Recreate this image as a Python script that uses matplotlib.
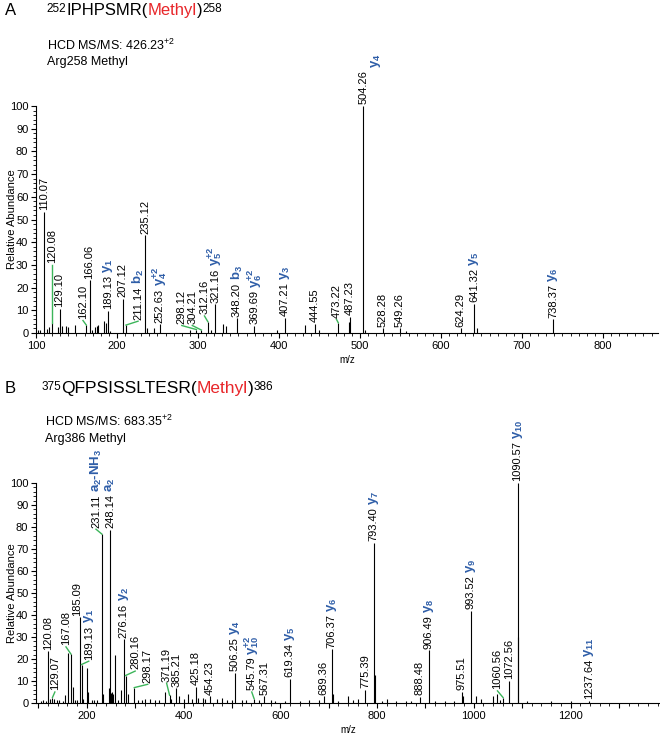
import matplotlib
matplotlib.use('Agg')
import matplotlib.pyplot as plt
from matplotlib.ticker import MultipleLocator, FuncFormatter

plt.rcParams['font.family'] = ['Liberation Sans', 'DejaVu Sans']
plt.rcParams['mathtext.fontset'] = 'custom'
plt.rcParams['mathtext.rm'] = 'Liberation Sans'
plt.rcParams['mathtext.it'] = 'Liberation Sans:italic'
plt.rcParams['mathtext.bf'] = 'Liberation Sans:bold'

BLUE = '#2f5ea8'
GREEN = '#3cb55a'
RED = '#e8262a'

# ---- panel A : 252IPHPSMR(Methyl)258 ----
a_mz = [103, 105, 110.07, 113, 116.5, 120.08, 127.5, 129.10, 132, 136.6, 139, 148,
        162.10, 166.06, 169, 173, 175, 177, 184, 186, 189.13, 191.5, 207.12, 211.14,
        235.12, 237.5, 245.7, 252.63, 290, 298.12, 304.21, 312.16, 316, 321.16, 331,
        334, 348.20, 369.69, 398, 407.21, 432, 444.55, 449, 473.22, 486, 487.23,
        504.26, 506, 528.28, 549.26, 557, 624.29, 641.32, 644.5, 738.37]
a_int = [1.5, 1.5, 53.5, 1.8, 2.5, 4.4, 2.5, 10.6, 3, 3, 2.5, 3.7,
         3.5, 23.2, 1.5, 2.5, 3, 3.5, 5.4, 4.5, 9.8, 1, 15, 3.5,
         43, 2, 2, 3.8, 1.5, 1.5, 1.3, 5, 1.5, 12.7, 4,
         3, 6.5, 3.2, 1.5, 6.6, 3.7, 4, 1.5, 4.5, 5, 7,
         100, 1.5, 2, 2, 1, 2, 12.8, 2, 6]
a_labels = ['110.07', '120.08', '129.10', '162.10', '166.06', '189.13', '207.12',
            '211.14', '235.12', '252.63', '298.12', '304.21', '312.16', '321.16',
            '348.20', '369.69', '407.21', '444.55', '473.22', '487.23', '504.26',
            '528.28', '549.26', '624.29', '641.32', '738.37']
a_ions = {'189.13': r'$\mathbf{y_1}$', '211.14': r'$\mathbf{b_2}$',
          '252.63': r'$\mathbf{y_4^{+2}}$', '321.16': r'$\mathbf{y_5^{+2}}$',
          '348.20': r'$\mathbf{b_3}$', '369.69': r'$\mathbf{y_6^{+2}}$',
          '407.21': r'$\mathbf{y_3}$', '504.26': r'$\mathbf{y_4}$',
          '641.32': r'$\mathbf{y_5}$', '738.37': r'$\mathbf{y_6}$'}
# labels moved off their peak, joined by a green line
a_moved = {'120.08': (120.08, 30), '162.10': (158, 5.5), '211.14': (226, 5.2),
           '298.12': (280, 3.3), '304.21': (293, 3.3), '312.16': (308, 7.5),
           '473.22': (471, 6)}

# ---- panel B : 375QFPSISSLTESR(Methyl)386 ----
b_mz = [105, 110, 115, 120.08, 124, 129.07, 133, 138, 142, 150, 155, 160.5, 167.08,
        172, 176, 180, 185.09, 189.13, 193, 200.5, 203, 210, 215, 222, 231.11, 234,
        245, 248.14, 250, 252, 254, 258, 265, 270, 276.16, 280.16, 285, 298.17, 305,
        315, 320, 330, 340, 350, 362, 371.19, 375, 385.21, 390, 400, 410, 418, 425.18,
        430, 440, 445, 454.23, 470, 480, 490, 500, 506.25, 520, 530, 545.79, 555,
        567.31, 580, 590, 610, 619.34, 640, 660, 680, 689.36, 706.37, 708, 720, 740,
        750, 760, 775.39, 793.40, 795.5, 810, 820, 840, 860, 870, 888.48, 906.49,
        920, 940, 960, 975.51, 977, 993.52, 1005, 1015, 1040, 1048, 1055, 1060.56,
        1072.56, 1090.57, 1091.5, 1110, 1160, 1200, 1237.64]
b_int = [1, 1.5, 1, 23.5, 2, 2.5, 2, 1.5, 1.5, 1, 3.5, 22.7, 22.3,
         7.5, 1.5, 1.5, 39, 17.5, 2, 16, 5, 1.5, 1.5, 1.5, 76.8, 4,
         7, 78.6, 4.5, 5, 4, 22, 1.5, 6, 29, 12.5, 4, 7, 1.5,
         1.5, 2, 2, 1.5, 1.5, 5, 3.5, 2, 6.7, 3, 2, 4, 2, 7.3,
         2.5, 2.5, 2, 3, 2, 2.5, 1.5, 1.5, 13.8, 1.5, 1.5, 2, 1.5,
         3, 1.5, 1, 1, 11, 1, 1.5, 1.5, 3, 24.4, 4, 1, 3,
         1.5, 2, 6, 72.9, 12.7, 1, 2, 1, 1, 1, 2.7, 24,
         1, 1, 1, 5, 3, 42, 3, 2, 3, 4, 1.5, 2.5,
         10, 100, 30, 1, 1, 1, 1]
b_labels = ['120.08', '129.07', '167.08', '185.09', '189.13', '231.11', '248.14',
            '276.16', '280.16', '298.17', '371.19', '385.21', '425.18', '454.23',
            '506.25', '545.79', '567.31', '619.34', '689.36', '706.37', '775.39',
            '793.40', '888.48', '906.49', '975.51', '993.52', '1060.56', '1072.56',
            '1090.57', '1237.64']
b_ions = {'189.13': r'$\mathbf{y_1}$', '231.11': r'$\mathbf{a_2}$-NH$\mathbf{_3}$',
          '248.14': r'$\mathbf{a_2}$', '276.16': r'$\mathbf{y_2}$',
          '506.25': r'$\mathbf{y_4}$', '545.79': r'$\mathbf{y_{10}^{+2}}$',
          '619.34': r'$\mathbf{y_5}$', '706.37': r'$\mathbf{y_6}$',
          '793.40': r'$\mathbf{y_7}$', '906.49': r'$\mathbf{y_8}$',
          '993.52': r'$\mathbf{y_9}$', '1090.57': r'$\mathbf{y_{10}}$',
          '1237.64': r'$\mathbf{y_{11}}$'}
b_moved = {'129.07': (134, 5), '167.08': (157, 25.5), '189.13': (204, 19),
           '231.11': (219, 79), '280.16': (300, 14.5), '298.17': (326, 8.5),
           '371.19': (365, 9), '545.79': (541, 5), '1060.56': (1049, 5.5)}

# small sideways nudges (points) for crowded labels
nudge = {'185.09': -2.0, '504.26': 0.0}
ion_shift = {'504.26': 9}


def draw_panel(ax, mz, inten, labels, ions, moved, xlim, major, minor, lab_step):
    ax.vlines(mz, 0, inten, color='black', lw=0.8)
    for lab in labels:
        px = float(lab)
        ph = inten[min(range(len(mz)), key=lambda i: abs(mz[i] - px))]
        if lab in moved:
            lx, ly = moved[lab]
            ax.plot([px, lx], [ph, ly], color=GREEN, lw=1.0)
        else:
            lx, ly = px, ph
        t = ax.annotate(lab, xy=(lx, ly), xytext=(nudge.get(lab, 0), 1.2),
                        textcoords='offset points', rotation=90, ha='center',
                        va='bottom', fontsize=8, annotation_clip=False)
        if lab in ions:
            ax.annotate(ions[lab], xy=(0.5, 1), xycoords=t,
                        xytext=(ion_shift.get(lab, 0), 1.5),
                        textcoords='offset points', rotation=90, ha='center',
                        va='bottom', fontsize=9.5, color=BLUE, fontweight='bold')
    ax.set_xlim(*xlim)
    ax.set_ylim(0, 100)
    ax.spines['top'].set_visible(False)
    ax.spines['right'].set_visible(False)
    ax.xaxis.set_major_locator(MultipleLocator(major))
    ax.xaxis.set_minor_locator(MultipleLocator(minor))
    ax.xaxis.set_major_formatter(FuncFormatter(
        lambda v, p: '%d' % v if round(v) % lab_step == 0 else ''))
    ax.yaxis.set_major_locator(MultipleLocator(10))
    ax.yaxis.set_minor_locator(MultipleLocator(2))
    ax.tick_params(which='major', length=3.5, width=0.8, labelsize=8, pad=2)
    ax.tick_params(which='minor', length=2, width=0.6)
    ax.set_ylabel('Relative Abundance', fontsize=8)
    ax.yaxis.set_label_coords(-0.031, 0.5)
    ax.set_xlabel('m/z', fontsize=7, labelpad=3)


def title(fig, ax, letter, pre, seq, post, ms, site, y_title, y_ms, y_site, x_seq, x_ms, size):
    W, H = 660.0, 734.0
    fig.text(5 / W, 1 - y_title / H, letter, fontsize=12, va='baseline')
    main = ax.annotate(seq + '(', xy=(x_seq / W, 1 - y_title / H), xycoords='figure fraction',
                       fontsize=size, va='baseline', ha='left', annotation_clip=False)
    ax.annotate(pre, xy=(0, 1), xycoords=main, ha='right', va='top', fontsize=8.5)
    meth = ax.annotate('Methyl', xy=(1, 0), xycoords=main, ha='left', va='bottom',
                       fontsize=size, color=RED)
    close = ax.annotate(')', xy=(1, 0), xycoords=meth, ha='left', va='bottom', fontsize=size)
    ax.annotate(post, xy=(1, 1), xycoords=close, ha='left', va='top', fontsize=8.5)
    fig.text(x_ms / W, 1 - y_ms / H, 'HCD MS/MS: ' + ms + r'$^{+2}$', fontsize=9, va='baseline')
    fig.text(x_ms / W, 1 - y_site / H, site, fontsize=9, va='baseline')


fig = plt.figure(figsize=(6.6, 7.34), dpi=100)
axA = fig.add_axes([36 / 660, 1 - 333 / 734, 622 / 660, 227 / 734])
axB = fig.add_axes([36 / 660, 1 - 703 / 734, 624 / 660, 220 / 734])

draw_panel(axA, a_mz, a_int, a_labels, a_ions, a_moved, (100, 868), 100, 10, 100)
draw_panel(axB, b_mz, b_int, b_labels, b_ions, b_moved, (95, 1385), 100, 20, 200)

title(fig, axA, 'A', '252', 'IPHPSMR', '258', '426.23', 'Arg258 Methyl', 15, 49.5, 65, 66, 47, 12)
title(fig, axB, 'B', '375', 'QFPSISSLTESR', '386', '683.35', 'Arg386 Methyl', 393, 426.5, 442, 61, 45, 12.5)

fig.savefig('out.png', dpi=100)
